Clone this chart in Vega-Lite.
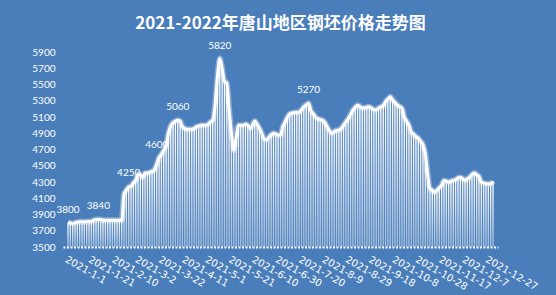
{
"$schema":"https://vega.github.io/schema/vega-lite/v6.json",
"autosize":{"type":"none"},
"width":435,"height":195,
"padding":{"left":63,"top":52,"right":58,"bottom":48},
"background":"#4A7EBB",
"config":{"view":{"stroke":null},"font":"Lato"},
"title":{"text":"2021-2022年唐山地区钢坯价格走势图","font":"Noto Sans CJK SC","fontSize":17,"fontWeight":"bold","color":"#ffffff","anchor":"middle","offset":8},
"datasets":{
"prices":[
{"d":"2021-01-01","p":3800},{"d":"2021-01-03","p":3795},{"d":"2021-01-05","p":3790},{"d":"2021-01-07","p":3800},{"d":"2021-01-09","p":3805},{"d":"2021-01-11","p":3810},{"d":"2021-01-13","p":3810},{"d":"2021-01-15","p":3810},{"d":"2021-01-17","p":3812},{"d":"2021-01-19","p":3815},{"d":"2021-01-21","p":3815},{"d":"2021-01-23","p":3830},{"d":"2021-01-25","p":3840},{"d":"2021-01-27","p":3840},{"d":"2021-01-29","p":3840},{"d":"2021-01-31","p":3830},
{"d":"2021-02-02","p":3830},{"d":"2021-02-04","p":3830},{"d":"2021-02-06","p":3830},{"d":"2021-02-08","p":3830},{"d":"2021-02-10","p":3830},{"d":"2021-02-12","p":3830},{"d":"2021-02-14","p":3830},{"d":"2021-02-16","p":3830},{"d":"2021-02-18","p":4150},{"d":"2021-02-20","p":4200},{"d":"2021-02-22","p":4240},{"d":"2021-02-24","p":4250},{"d":"2021-02-26","p":4290},{"d":"2021-02-28","p":4320},
{"d":"2021-03-02","p":4400},{"d":"2021-03-04","p":4390},{"d":"2021-03-06","p":4360},{"d":"2021-03-08","p":4410},{"d":"2021-03-10","p":4410},{"d":"2021-03-12","p":4420},{"d":"2021-03-14","p":4430},{"d":"2021-03-16","p":4450},{"d":"2021-03-18","p":4520},{"d":"2021-03-20","p":4600},{"d":"2021-03-22","p":4640},{"d":"2021-03-24","p":4690},{"d":"2021-03-26","p":4750},{"d":"2021-03-28","p":4900},{"d":"2021-03-30","p":4990},
{"d":"2021-04-01","p":5030},{"d":"2021-04-03","p":5050},{"d":"2021-04-05","p":5060},{"d":"2021-04-07","p":5050},{"d":"2021-04-09","p":4980},{"d":"2021-04-11","p":4960},{"d":"2021-04-13","p":4950},{"d":"2021-04-15","p":4950},{"d":"2021-04-17","p":4950},{"d":"2021-04-19","p":4960},{"d":"2021-04-21","p":4980},{"d":"2021-04-23","p":4990},{"d":"2021-04-25","p":5000},{"d":"2021-04-27","p":5000},{"d":"2021-04-29","p":5000},
{"d":"2021-05-01","p":5010},{"d":"2021-05-03","p":5040},{"d":"2021-05-05","p":5060},{"d":"2021-05-07","p":5250},{"d":"2021-05-09","p":5600},{"d":"2021-05-11","p":5820},{"d":"2021-05-13","p":5700},{"d":"2021-05-15","p":5540},{"d":"2021-05-17","p":5520},{"d":"2021-05-19","p":5190},{"d":"2021-05-21","p":4900},{"d":"2021-05-23","p":4690},{"d":"2021-05-25","p":4850},{"d":"2021-05-27","p":5000},{"d":"2021-05-29","p":5000},{"d":"2021-05-31","p":5000},
{"d":"2021-06-02","p":5010},{"d":"2021-06-04","p":5000},{"d":"2021-06-06","p":4960},{"d":"2021-06-08","p":5000},{"d":"2021-06-10","p":5050},{"d":"2021-06-12","p":5010},{"d":"2021-06-14","p":4960},{"d":"2021-06-16","p":4900},{"d":"2021-06-18","p":4830},{"d":"2021-06-20","p":4820},{"d":"2021-06-22","p":4850},{"d":"2021-06-24","p":4880},{"d":"2021-06-26","p":4900},{"d":"2021-06-28","p":4890},{"d":"2021-06-30","p":4880},
{"d":"2021-07-02","p":4880},{"d":"2021-07-04","p":4980},{"d":"2021-07-06","p":5040},{"d":"2021-07-08","p":5100},{"d":"2021-07-10","p":5140},{"d":"2021-07-12","p":5150},{"d":"2021-07-14","p":5155},{"d":"2021-07-16","p":5160},{"d":"2021-07-18","p":5160},{"d":"2021-07-20","p":5190},{"d":"2021-07-22","p":5225},{"d":"2021-07-24","p":5250},{"d":"2021-07-26","p":5270},{"d":"2021-07-28","p":5180},{"d":"2021-07-30","p":5140},
{"d":"2021-08-01","p":5100},{"d":"2021-08-03","p":5080},{"d":"2021-08-05","p":5070},{"d":"2021-08-07","p":5060},{"d":"2021-08-09","p":5030},{"d":"2021-08-11","p":4980},{"d":"2021-08-13","p":4930},{"d":"2021-08-15","p":4900},{"d":"2021-08-17","p":4920},{"d":"2021-08-19","p":4935},{"d":"2021-08-21","p":4940},{"d":"2021-08-23","p":4960},{"d":"2021-08-25","p":5000},{"d":"2021-08-27","p":5040},{"d":"2021-08-29","p":5080},{"d":"2021-08-31","p":5130},
{"d":"2021-09-02","p":5185},{"d":"2021-09-04","p":5220},{"d":"2021-09-06","p":5245},{"d":"2021-09-08","p":5230},{"d":"2021-09-10","p":5210},{"d":"2021-09-12","p":5215},{"d":"2021-09-14","p":5220},{"d":"2021-09-16","p":5225},{"d":"2021-09-18","p":5210},{"d":"2021-09-20","p":5190},{"d":"2021-09-22","p":5190},{"d":"2021-09-24","p":5210},{"d":"2021-09-26","p":5225},{"d":"2021-09-28","p":5240},{"d":"2021-09-30","p":5290},
{"d":"2021-10-02","p":5320},{"d":"2021-10-04","p":5350},{"d":"2021-10-06","p":5310},{"d":"2021-10-08","p":5280},{"d":"2021-10-10","p":5250},{"d":"2021-10-12","p":5230},{"d":"2021-10-14","p":5210},{"d":"2021-10-16","p":5100},{"d":"2021-10-18","p":5050},{"d":"2021-10-20","p":5000},{"d":"2021-10-22","p":4915},{"d":"2021-10-24","p":4890},{"d":"2021-10-26","p":4860},{"d":"2021-10-28","p":4840},{"d":"2021-10-30","p":4800},
{"d":"2021-11-01","p":4760},{"d":"2021-11-03","p":4650},{"d":"2021-11-05","p":4400},{"d":"2021-11-07","p":4220},{"d":"2021-11-09","p":4200},{"d":"2021-11-11","p":4175},{"d":"2021-11-13","p":4200},{"d":"2021-11-15","p":4230},{"d":"2021-11-17","p":4260},{"d":"2021-11-19","p":4320},{"d":"2021-11-21","p":4310},{"d":"2021-11-23","p":4300},{"d":"2021-11-25","p":4310},{"d":"2021-11-27","p":4320},{"d":"2021-11-29","p":4330},
{"d":"2021-12-01","p":4350},{"d":"2021-12-03","p":4360},{"d":"2021-12-05","p":4340},{"d":"2021-12-07","p":4320},{"d":"2021-12-09","p":4340},{"d":"2021-12-11","p":4360},{"d":"2021-12-13","p":4390},{"d":"2021-12-15","p":4410},{"d":"2021-12-17","p":4390},{"d":"2021-12-19","p":4370},{"d":"2021-12-21","p":4300},{"d":"2021-12-23","p":4290},{"d":"2021-12-25","p":4280},{"d":"2021-12-27","p":4280},{"d":"2021-12-29","p":4280},{"d":"2021-12-31","p":4310}
],
"labels":[
{"d":"2021-01-01","p":3800},{"d":"2021-01-27","p":3840},{"d":"2021-02-22","p":4250},{"d":"2021-03-18","p":4600},{"d":"2021-04-05","p":5060},{"d":"2021-05-11","p":5820},{"d":"2021-07-26","p":5270}
]
},
"encoding":{
"x":{"field":"d","type":"temporal","title":null,
"scale":{"type":"utc","domain":[{"year":2021,"month":1,"date":1,"utc":true},{"year":2021,"month":12,"date":31,"utc":true}]},
"axis":{"labelExpr":"utcFormat(datum.value, '%Y-%-m-%-d')","grid":false,"ticks":false,"labelAngle":30,"labelAlign":"left","labelBaseline":"top","labelPadding":7,"labelColor":"#ffffff","labelFontSize":10,"labelFont":"DejaVu Sans","labelOverlap":false,"labelFlush":false,"domainColor":"#ffffff","domainWidth":2,"domainDash":[2,1.5],
"values":[{"year":2021,"month":1,"date":1,"utc":true},{"year":2021,"month":1,"date":21,"utc":true},{"year":2021,"month":2,"date":10,"utc":true},{"year":2021,"month":3,"date":2,"utc":true},{"year":2021,"month":3,"date":22,"utc":true},{"year":2021,"month":4,"date":11,"utc":true},{"year":2021,"month":5,"date":1,"utc":true},{"year":2021,"month":5,"date":21,"utc":true},{"year":2021,"month":6,"date":10,"utc":true},{"year":2021,"month":6,"date":30,"utc":true},{"year":2021,"month":7,"date":20,"utc":true},{"year":2021,"month":8,"date":9,"utc":true},{"year":2021,"month":8,"date":29,"utc":true},{"year":2021,"month":9,"date":18,"utc":true},{"year":2021,"month":10,"date":8,"utc":true},{"year":2021,"month":10,"date":28,"utc":true},{"year":2021,"month":11,"date":17,"utc":true},{"year":2021,"month":12,"date":7,"utc":true},{"year":2021,"month":12,"date":27,"utc":true}]}},
"y":{"field":"p","type":"quantitative","title":null,
"scale":{"domain":[3500,5900],"zero":false,"nice":false},
"axis":{"values":[3500,3700,3900,4100,4300,4500,4700,4900,5100,5300,5500,5700,5900],"format":"d","grid":false,"ticks":false,"domain":false,"labelColor":"#ffffff","labelFontSize":10,"labelPadding":8,"labelFont":"Lato"}}
},
"layer":[
{"data":{"name":"prices"},
 "mark":{"type":"bar","size":1.4,"color":{"gradient":"linear","x1":0,"y1":0,"x2":0,"y2":1,"stops":[{"offset":0,"color":"rgba(255,255,255,1)"},{"offset":1,"color":"rgba(255,255,255,0.45)"}]}},
 "encoding":{"y2":{"datum":3500}}},
{"data":{"name":"prices"},
 "mark":{"type":"line","color":"#ffffff","strokeWidth":6,"opacity":0.35,"interpolate":"monotone"},
 "encoding":{}},
{"data":{"name":"prices"},
 "mark":{"type":"line","color":"#ffffff","strokeWidth":3,"interpolate":"monotone"},
 "encoding":{}},
{"data":{"name":"labels"},
 "mark":{"type":"text","color":"#ffffff","fontSize":10,"font":"Lato","baseline":"bottom","dy":-8},
 "encoding":{"text":{"field":"p","type":"quantitative","format":"d"}}}
]
}
